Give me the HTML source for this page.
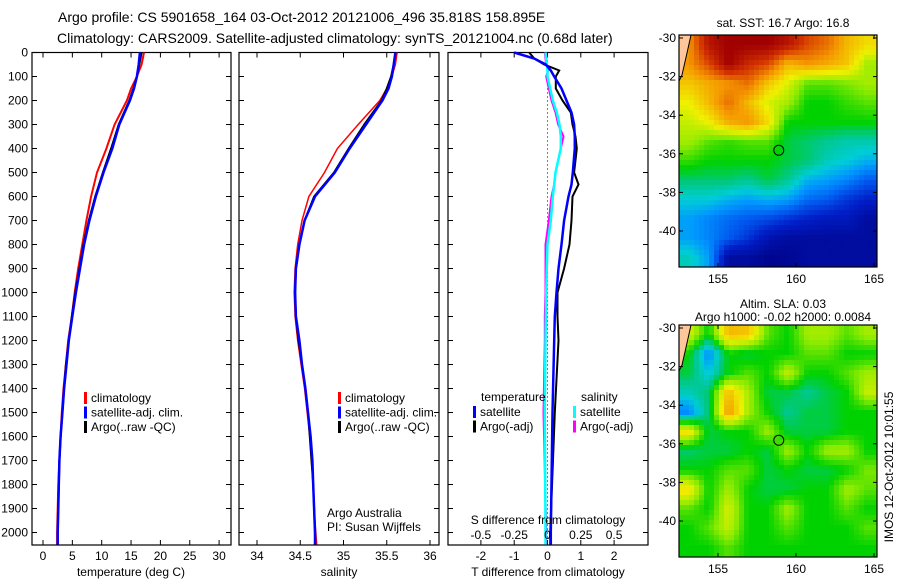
<!DOCTYPE html>
<html><head><meta charset="utf-8"><style>
html,body{margin:0;padding:0;background:#fff;}
svg{display:block;font-family:"Liberation Sans",sans-serif;}
</style></head><body>
<svg id="fig" width="900" height="580" viewBox="0 0 900 580" xmlns="http://www.w3.org/2000/svg">
<text x="58" y="22" font-size="14">Argo profile: CS 5901658_164 03-Oct-2012 20121006_496 35.818S 158.895E</text>
<text x="57" y="43" font-size="14">Climatology: CARS2009. Satellite-adjusted climatology: synTS_20121004.nc (0.68d later)</text>
<g id="plots"></g>
</svg>
<script>
// ---- profile data ----
const depths = [0,50,100,150,200,300,400,500,600,700,800,900,1000,1100,1200,1300,1400,1500,1600,1700,1800,1900,2000,2050];
const tempClim = [17.2,16.8,16,15,14.3,12.2,10.8,9.2,8.2,7.4,6.7,6.0,5.4,4.9,4.3,3.9,3.5,3.2,3.0,2.8,2.6,2.5,2.4,2.4];
const tempSat  = [16.5,16.3,16,15.5,14.8,13,11.8,10.3,9,7.9,7,6.3,5.6,5,4.4,4,3.6,3.3,3,2.8,2.7,2.6,2.5,2.5];
const tempArgo = [16.8,16.4,16,15.4,14.7,12.9,11.6,10.2,8.9,7.8,6.9,6.2,5.5,4.9,4.4,3.9,3.6,3.3,3.0,2.8,2.7,2.6,2.5,2.5];
const salClim = [35.62,35.6,35.56,35.5,35.42,35.17,34.93,34.78,34.6,34.52,34.47,34.44,34.43,34.44,34.47,34.51,34.55,34.58,34.61,34.63,34.65,34.66,34.68,34.69];
const salSat  = [35.6,35.58,35.56,35.52,35.45,35.26,35.07,34.9,34.67,34.55,34.49,34.45,34.44,34.45,34.49,34.52,34.56,34.59,34.62,34.64,34.65,34.66,34.67,34.67];
const salArgo = [35.6,35.58,35.55,35.5,35.44,35.24,35.06,34.89,34.66,34.55,34.49,34.45,34.44,34.45,34.48,34.52,34.56,34.59,34.61,34.63,34.65,34.66,34.67,34.67];
const diffDepths = [0,25,50,75,100,150,200,250,300,350,400,500,550,600,700,800,900,1000,1100,1200,1500,2000,2050];
const tDiffSat  = [-1.0,-0.4,-0.05,0.1,0.2,0.42,0.57,0.72,0.8,0.82,0.82,0.76,0.72,0.63,0.5,0.42,0.33,0.27,0.22,0.2,0.15,0.1,0.1];
const tDiffArgo = [-0.55,-0.4,-0.1,0.35,0.25,0.25,0.45,0.7,0.75,0.84,0.88,0.8,0.93,0.75,0.72,0.66,0.5,0.3,0.3,0.33,0.22,0.08,0.08];
const sDiffSat  = [-0.015,-0.01,-0.005,0,0,0.02,0.04,0.07,0.09,0.1,0.1,0.06,0.05,0.04,0.025,0,-0.005,-0.01,-0.012,-0.015,-0.02,-0.015,-0.015];
const sDiffArgo = [-0.02,-0.015,-0.01,0.005,-0.01,0.01,0.03,0.06,0.08,0.12,0.1,0.06,0.05,0.03,0.01,-0.015,-0.015,-0.015,-0.02,-0.02,-0.03,-0.01,-0.01];
const depthTicks = [0,100,200,300,400,500,600,700,800,900,1000,1100,1200,1300,1400,1500,1600,1700,1800,1900,2000];
const tempTicks = [0,5,10,15,20,25,30];
const salTicks = [34,34.5,35,35.5,36];
const tdTicks = [-2,-1,0,1,2];
const sdTicks = [-0.5,-0.25,0,0.25,0.5];
const sdTickLabels = ["-0.5","-0.25","0","0.25","0.5"];
// ---- map data (rows: -30 to -42 lat, cols: 152.5 to 165 lon), colour index 0..1 ----
const sstGrid = [
[0.75,0.95,1.0,1.0,1.0,0.95,0.85,0.8,0.7,0.65],
[0.75,0.85,1.0,0.9,0.85,0.7,0.75,0.72,0.68,0.55],
[0.68,0.72,0.75,0.8,0.68,0.6,0.5,0.5,0.52,0.55],
[0.62,0.7,0.8,0.7,0.6,0.55,0.45,0.45,0.48,0.5],
[0.58,0.62,0.72,0.75,0.65,0.45,0.45,0.45,0.45,0.45],
[0.55,0.5,0.48,0.5,0.5,0.42,0.4,0.38,0.36,0.36],
[0.48,0.45,0.45,0.45,0.45,0.42,0.4,0.35,0.33,0.3],
[0.4,0.4,0.4,0.38,0.42,0.38,0.3,0.28,0.25,0.2],
[0.33,0.33,0.3,0.28,0.3,0.28,0.22,0.2,0.15,0.12],
[0.28,0.25,0.22,0.2,0.18,0.15,0.12,0.1,0.1,0.05],
[0.28,0.25,0.2,0.15,0.08,0.05,0.05,0.05,0.05,0.05],
[0.35,0.28,0.05,0.05,0.02,0.03,0.05,0.05,0.05,0.05]];
const slaGrid = [
[0.6,0.45,0.7,0.68,0.5,0.45,0.55,0.55,0.5,0.55],
[0.45,0.25,0.45,0.42,0.45,0.45,0.5,0.5,0.45,0.45],
[0.42,0.32,0.45,0.5,0.45,0.58,0.45,0.45,0.5,0.55],
[0.35,0.4,0.7,0.55,0.42,0.42,0.38,0.42,0.45,0.58],
[0.25,0.4,0.75,0.55,0.45,0.38,0.42,0.42,0.45,0.45],
[0.65,0.42,0.45,0.45,0.55,0.42,0.42,0.42,0.45,0.45],
[0.4,0.42,0.42,0.45,0.42,0.55,0.45,0.55,0.55,0.45],
[0.45,0.45,0.5,0.5,0.42,0.45,0.42,0.42,0.45,0.52],
[0.65,0.45,0.55,0.45,0.42,0.42,0.45,0.45,0.55,0.5],
[0.5,0.45,0.6,0.45,0.45,0.55,0.45,0.45,0.5,0.45],
[0.45,0.5,0.58,0.45,0.45,0.5,0.45,0.45,0.45,0.5],
[0.45,0.45,0.5,0.45,0.45,0.45,0.45,0.45,0.45,0.45]];
const latTicks = [-30,-32,-34,-36,-38,-40];
const lonTicks = [155,160,165];
const argoPos = [158.895,-35.818];

const NS="http://www.w3.org/2000/svg";
const root=document.getElementById('plots');
function el(tag,attrs,parent,txt){const e=document.createElementNS(NS,tag);for(const k in attrs)e.setAttribute(k,attrs[k]);if(txt!==undefined)e.textContent=txt;(parent||root).appendChild(e);return e;}
const TOP=52.5,BOT=545;
const yD=d=>TOP+d*0.24;
function panel(name){
  const g=el('g',{});
  return g;}
function frame(g,x0,x1){
  el('rect',{x:x0,y:TOP,width:x1-x0,height:BOT-TOP,fill:'none',stroke:'#000','stroke-width':1.2},g);
  depthTicks.forEach(d=>{const y=yD(d);
    el('line',{x1:x0,x2:x0+5,y1:y,y2:y,stroke:'#000'},g);
    el('line',{x1:x1-5,x2:x1,y1:y,y2:y,stroke:'#000'},g);});
}
function xticks(g,ticks,fx,labels,ly){
  ticks.forEach((t,i)=>{const x=fx(t);
    el('line',{x1:x,x2:x,y1:BOT,y2:BOT-5,stroke:'#000'},g);
    el('line',{x1:x,x2:x,y1:TOP,y2:TOP+5,stroke:'#000'},g);
    const tx=el('text',{x:x,y:ly,'font-size':12,'text-anchor':'middle'},g,labels?labels[i]:String(t));
    });
}
function line(g,xs,ds,fx,color,w,name){
  const pts=xs.map((v,i)=>fx(v).toFixed(1)+','+yD(ds[i]).toFixed(1)).join(' ');
  const p=el('polyline',{points:pts,fill:'none',stroke:color,'stroke-width':w,'stroke-linejoin':'miter'},g);
  
}
function legend(g,x,y,items){
  items.forEach((it,i)=>{const yy=y+i*14.5;
    el('rect',{x:x,y:yy-10,width:3,height:12,fill:it[1]},g);
    const t=el('text',{x:x+7,y:yy,'font-size':12},g,it[0]);
    });
}
// Panel 1
const g1=panel('temperature-panel');
const fT=v=>43+v*5.87;
frame(g1,32,231);
depthTicks.forEach(d=>{const t=el('text',{x:28,y:yD(d)+4,'font-size':12,'text-anchor':'end'},g1,String(d));
  });
xticks(g1,tempTicks,fT,null,560);
line(g1,tempClim,depths,fT,'#f00',2,'temp-climatology-line');
line(g1,tempArgo,depths,fT,'#000',2,'temp-argo-line');
line(g1,tempSat,depths,fT,'#00f',2.5,'temp-satellite-line');
legend(g1,84,402,[['climatology','#f00'],['satellite-adj. clim.','#00f'],['Argo(..raw -QC)','#000']]);
el('text',{x:131,y:576,'font-size':12,'text-anchor':'middle'},g1,'temperature (deg C)');
// Panel 2
const g2=panel('salinity-panel');
const fS=v=>257+(v-34)*86.5;
frame(g2,239,439);
xticks(g2,salTicks,fS,null,560);
line(g2,salClim,depths,fS,'#f00',1.5,'sal-climatology-line');
line(g2,salArgo,depths,fS,'#000',2,'sal-argo-line');
line(g2,salSat,depths,fS,'#00f',2.5,'sal-satellite-line');
legend(g2,338,402,[['climatology','#f00'],['satellite-adj. clim.','#00f'],['Argo(..raw -QC)','#000']]);
el('text',{x:327,y:517,'font-size':12},g2,'Argo Australia');
el('text',{x:327,y:531,'font-size':12},g2,'PI: Susan Wijffels');
el('text',{x:339,y:576,'font-size':12,'text-anchor':'middle'},g2,'salinity');
// Panel 3
const g3=panel('difference-panel');
const fTD=v=>547.5+v*33.3, fSD=v=>547.5+v*133.2;
frame(g3,448,648);
el('line',{x1:fTD(0),x2:fTD(0),y1:TOP,y2:BOT,stroke:'#000','stroke-dasharray':'1,3'},g3);
xticks(g3,tdTicks,fTD,null,560);
line(g3,sDiffArgo,diffDepths,fSD,'#f0f',2,'sdiff-argo-line');
line(g3,sDiffSat,diffDepths,fSD,'#0ff',2.5,'sdiff-satellite-line');
line(g3,tDiffArgo,diffDepths,fTD,'#000',2,'tdiff-argo-line');
line(g3,tDiffSat,diffDepths,fTD,'#00f',2.5,'tdiff-satellite-line');
sdTicks.forEach((t,i)=>{const t2=el('text',{x:fSD(t),y:539,'font-size':12,'text-anchor':'middle'},g3,sdTickLabels[i]);
  });
el('text',{x:548,y:524,'font-size':12,'text-anchor':'middle'},g3,'S difference from climatology');
el('text',{x:481,y:401,'font-size':12},g3,'temperature');
el('text',{x:581,y:401,'font-size':12},g3,'salinity');
legend(g3,473,416,[['satellite','#00f'],['Argo(-adj)','#000']]);
legend(g3,573,416,[['satellite','#0ff'],['Argo(-adj)','#f0f']]);
el('text',{x:548,y:576,'font-size':12,'text-anchor':'middle'},g3,'T difference from climatology');
// ---- maps ----
const palStops=[[0,[0,0,130]],[0.12,[0,30,200]],[0.2,[0,90,240]],[0.27,[0,150,255]],[0.33,[0,205,215]],[0.39,[0,200,130]],[0.45,[0,210,0]],[0.53,[140,235,0]],[0.62,[240,240,0]],[0.75,[245,150,0]],[0.88,[210,50,0]],[1.0,[160,0,0]]];
function cmap(v){v=Math.max(0,Math.min(1,v));
  for(let k=1;k<palStops.length;k++){if(v<=palStops[k][0]){const a=palStops[k-1],b=palStops[k],t=(v-a[0])/(b[0]-a[0]);
    return `rgb(${Math.round(a[1][0]+(b[1][0]-a[1][0])*t)},${Math.round(a[1][1]+(b[1][1]-a[1][1])*t)},${Math.round(a[1][2]+(b[1][2]-a[1][2])*t)})`;}}
  return 'rgb(160,0,0)';}
function map(name,grid,y0,title1,title2){
  const g=el('g',{});
  const X0=679,X1=877,Y0=y0,Y1=y0+232;
  const fx=lon=>X0+(lon-152.5)*15.6, fy=lat=>Y0+3+(-30-lat)*19.3;
  const R=grid.length,C=grid[0].length,step=5;
  for(let py=Y0;py<Y1;py+=step)for(let px=X0;px<X1;px+=step){
    const gx=Math.max(0,Math.min(C-1.001,(px+step/2-X0)/(X1-X0)*C-0.5)),gy=Math.max(0,Math.min(R-1.001,(py+step/2-Y0)/(Y1-Y0)*R-0.5));
    const i=Math.floor(gy),j=Math.floor(gx),fy2=gy-i,fx2=gx-j;
    const v=grid[i][j]*(1-fx2)*(1-fy2)+grid[i][j+1]*fx2*(1-fy2)+grid[i+1][j]*(1-fx2)*fy2+grid[i+1][j+1]*fx2*fy2;
    const c=el('rect',{x:px,y:py,width:Math.min(step,X1-px)+0.3,height:Math.min(step,Y1-py)+0.3,fill:cmap(v)},g);
    
    
  }
  el('path',{d:`M${X0},${Y0} L${X0+12},${Y0} L${X0+8},${Y0+18} L${X0+3},${Y0+40} L${X0},${Y0+46} Z`,fill:'#fdc79b'},g);
  el('path',{d:`M${X0+12},${Y0} L${X0+8},${Y0+18} L${X0+3},${Y0+40} L${X0},${Y0+46}`,fill:'none',stroke:'#000','stroke-width':1},g);
  el('rect',{x:X0,y:Y0,width:X1-X0,height:Y1-Y0,fill:'none',stroke:'#000','stroke-width':1.2},g);
  latTicks.forEach(l=>{const y=fy(l);
    el('line',{x1:X0,x2:X0+4,y1:y,y2:y,stroke:'#000'},g);el('line',{x1:X1-4,x2:X1,y1:y,y2:y,stroke:'#000'},g);
    const t=el('text',{x:X0-3,y:y+4,'font-size':12,'text-anchor':'end'},g,String(l));
    });
  lonTicks.forEach(l=>{const x=fx(l);
    el('line',{x1:x,x2:x,y1:Y1,y2:Y1-4,stroke:'#000'},g);el('line',{x1:x,x2:x,y1:Y0,y2:Y0+4,stroke:'#000'},g);
    const t=el('text',{x:x,y:Y1+16,'font-size':12,'text-anchor':'middle'},g,String(l));
    });
  const c=el('circle',{cx:fx(argoPos[0]),cy:fy(argoPos[1]),r:5,fill:'none',stroke:'#000','stroke-width':1},g);
  
  if(title2){el('text',{x:783,y:y0-17,'font-size':12,'text-anchor':'middle'},g,title1);
    el('text',{x:783,y:y0-4,'font-size':12,'text-anchor':'middle'},g,title2);}
  else el('text',{x:783,y:y0-8,'font-size':12,'text-anchor':'middle'},g,title1);
}
map('sst-map',sstGrid,35,'sat. SST: 16.7 Argo: 16.8');
map('sla-map',slaGrid,325,'Altim. SLA: 0.03','Argo h1000: -0.02 h2000: 0.0084');
const im=el('text',{x:0,y:0,'font-size':12,'text-anchor':'middle',transform:'translate(893,467) rotate(-90)'},root,'IMOS 12-Oct-2012 10:01:55');


</script>
</body></html>
